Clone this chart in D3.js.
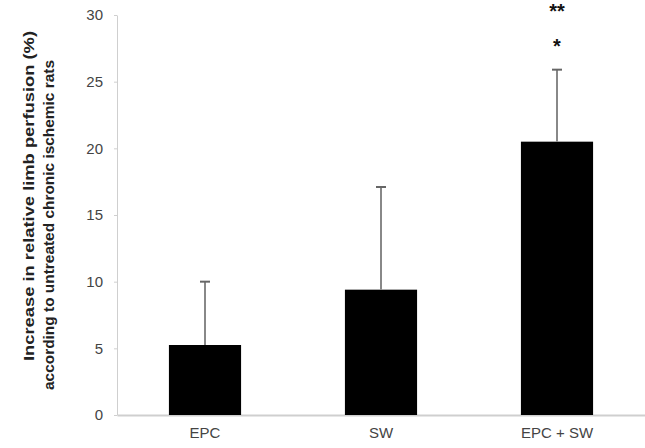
<!DOCTYPE html>
<html>
<head>
<meta charset="utf-8">
<script src="https://cdn.jsdelivr.net/npm/d3@7"></script>
<style>
  body { margin: 0; background: #fff; }
  svg { display: block; font-family: 'Liberation Sans', Arial, sans-serif; }
</style>
</head>
<body>
<script>
// Data
const categories = ['EPC', 'SW', 'EPC + SW']
const means = [5.25, 9.4, 20.5]
const errorTops = [10.0, 17.1, 25.9]
const yTicks = [0, 5, 10, 15, 20, 25, 30]
const starLabels = ['*', '**']
const starValues = [27.9, 30.5]
const yTitleLines = ['Increase in relative limb perfusion (%)', 'according to untreated chronic ischemic rats']

const width = 645
const height = 448
const margins = { top: 15, right: 0, bottom: 33, left: 117 }

const svg = d3.select('body').append('svg')
  .attr('width', width)
  .attr('height', height)

const xScale = d3.scaleBand()
  .domain(categories)
  .range([margins.left, width - margins.right])
  .paddingInner(0.59)
  .paddingOuter(0.295)

const yScale = d3.scaleLinear()
  .domain([0, 30])
  .range([height - margins.bottom, margins.top])

// Axes
const yAxis = svg.append('g')
  .attr('transform', `translate(${margins.left}, 0)`)
  .call(d3.axisLeft(yScale).tickValues(yTicks).tickSize(3).tickPadding(11).tickSizeOuter(0))
yAxis.select('.domain').attr('stroke', '#cfcfcf')
yAxis.selectAll('.tick line').attr('stroke', '#cfcfcf')
yAxis.selectAll('text')
  .attr('fill', '#444')
  .style('font-size', '15px')

const xAxis = svg.append('g')
  .attr('transform', `translate(0, ${height - margins.bottom})`)
  .call(d3.axisBottom(xScale).tickSize(0).tickPadding(12).tickSizeOuter(0))
xAxis.select('.domain').attr('stroke', '#cfcfcf').attr('stroke-width', 2)
xAxis.selectAll('text')
  .attr('fill', '#444')
  .style('font-size', '15px')

// Bars
svg.selectAll('.bar')
  .data(categories)
  .enter().append('rect')
  .attr('class', 'bar')
  .attr('x', d => xScale(d))
  .attr('width', xScale.bandwidth())
  .attr('y', (d, i) => yScale(means[i]))
  .attr('height', (d, i) => yScale(0) - yScale(means[i]))
  .attr('fill', '#000')

// Error bars (upper only)
const cx = d => xScale(d) + xScale.bandwidth() / 2
svg.selectAll('.err')
  .data(categories)
  .enter().append('line')
  .attr('x1', cx).attr('x2', cx)
  .attr('y1', (d, i) => yScale(means[i]))
  .attr('y2', (d, i) => yScale(errorTops[i]))
  .attr('stroke', '#888')
  .attr('stroke-width', 2)

svg.selectAll('.cap')
  .data(categories)
  .enter().append('line')
  .attr('x1', d => cx(d) - 5).attr('x2', d => cx(d) + 5)
  .attr('y1', (d, i) => yScale(errorTops[i]))
  .attr('y2', (d, i) => yScale(errorTops[i]))
  .attr('stroke', '#666')
  .attr('stroke-width', 2)

// Significance stars over the last bar
const last = categories[categories.length - 1]
svg.selectAll('.star')
  .data(starLabels)
  .enter().append('text')
  .attr('x', cx(last))
  .attr('y', (d, i) => yScale(starValues[i]) + 10)
  .attr('text-anchor', 'middle')
  .attr('fill', '#111')
  .style('font-size', '20px')
  .style('font-weight', 'bold')
  .text(d => d)

// Y title
const yTitle = svg.append('g')
  .attr('transform', 'translate(34, 0)')
yTitle.selectAll('text')
  .data(yTitleLines)
  .enter().append('text')
  .attr('transform', 'rotate(-90)')
  .attr('x', (d, i) => -(196 + i * 29))
  .attr('y', (d, i) => i * 20)
  .attr('text-anchor', 'middle')
  .attr('textLength', 330)
  .attr('lengthAdjust', 'spacingAndGlyphs')
  .attr('fill', '#222')
  .style('font-size', '15px')
  .style('font-weight', 'bold')
  .text(d => d)
</script>
</body>
</html>
